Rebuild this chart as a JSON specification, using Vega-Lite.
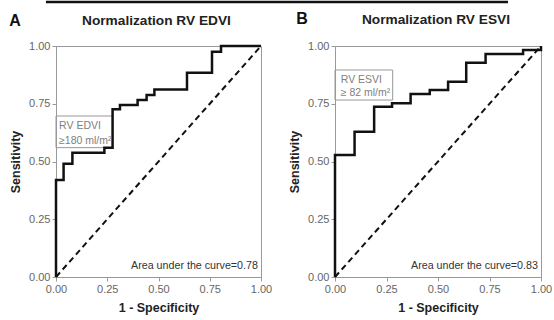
{
  "$schema": "https://vega.github.io/schema/vega-lite/v6.json",
  "padding": {"left": 8, "top": 0, "right": 2, "bottom": 2},
  "background": "white",
  "config": {
    "font": "Liberation Sans",
    "view": {"stroke": "#999999", "strokeWidth": 1},
    "axis": {
      "grid": false,
      "domainColor": "#999999",
      "tickColor": "#999999",
      "tickSize": 4,
      "labelColor": "#666666",
      "labelFontSize": 11,
      "labelFont": "Liberation Sans",
      "labelPadding": 2,
      "labelFlush": false,
      "titleFont": "Liberation Sans",
      "titleFontSize": 12.5,
      "titleFontWeight": "bold",
      "titleColor": "#222222"
    }
  },
  "datasets": {
    "roc_a": [
      {"i": 0, "x": 0, "y": 0},
      {"i": 1, "x": 0, "y": 0.42},
      {"i": 2, "x": 0.037, "y": 0.49},
      {"i": 3, "x": 0.08, "y": 0.538},
      {"i": 4, "x": 0.236, "y": 0.56},
      {"i": 5, "x": 0.276, "y": 0.726},
      {"i": 6, "x": 0.312, "y": 0.745},
      {"i": 7, "x": 0.398, "y": 0.766},
      {"i": 8, "x": 0.442, "y": 0.788},
      {"i": 9, "x": 0.48, "y": 0.812},
      {"i": 10, "x": 0.639, "y": 0.884},
      {"i": 11, "x": 0.761, "y": 0.975},
      {"i": 12, "x": 0.805, "y": 1.0},
      {"i": 13, "x": 1.0, "y": 1.0}
    ],
    "roc_b": [
      {"i": 0, "x": 0, "y": 0},
      {"i": 1, "x": 0, "y": 0.528},
      {"i": 2, "x": 0.095, "y": 0.629},
      {"i": 3, "x": 0.19, "y": 0.737},
      {"i": 4, "x": 0.277, "y": 0.752},
      {"i": 5, "x": 0.367, "y": 0.792},
      {"i": 6, "x": 0.46, "y": 0.81},
      {"i": 7, "x": 0.549, "y": 0.845},
      {"i": 8, "x": 0.637, "y": 0.928},
      {"i": 9, "x": 0.731, "y": 0.965},
      {"i": 10, "x": 0.913, "y": 0.983},
      {"i": 11, "x": 1.0, "y": 1.0}
    ],
    "diag": [{"x": 0, "y": 0}, {"x": 1, "y": 1}],
    "box_a": [{"x": 0, "x2": 0.276, "y": 0.56, "y2": 0.697}],
    "box_b": [{"x": 0, "x2": 0.28, "y": 0.766, "y2": 0.896}],
    "lab_a": [
      {"x": 0.015, "y": 0.655, "label": "RV EDVI"},
      {"x": 0.015, "y": 0.59, "label": "≥180 ml/m²"}
    ],
    "lab_b": [
      {"x": 0.028, "y": 0.853, "label": "RV ESVI"},
      {"x": 0.028, "y": 0.797, "label": "≥ 82 ml/m²"}
    ],
    "auc_a": [{"x": 0.985, "y": 0.047, "label": "Area under the curve=0.78"}],
    "auc_b": [{"x": 0.985, "y": 0.047, "label": "Area under the curve=0.83"}],
    "title_a": [{"x": 0.49, "y": 1.091, "label": "Normalization RV EDVI"}],
    "title_b": [{"x": 0.49, "y": 1.095, "label": "Normalization RV ESVI"}],
    "letter_a": [{"x": -0.2, "y": 1.087, "label": "A"}],
    "letter_b": [{"x": -0.16, "y": 1.095, "label": "B"}],
    "topline": [{"x": -0.049, "x2": 2.205, "y": 1.19}]
  },
  "bounds": "flush",
  "spacing": 74,
  "hconcat": [
    {
      "width": 205,
      "height": 231,
      "encoding": {
        "x": {"field": "x", "type": "quantitative", "scale": {"domain": [0, 1], "nice": false},
              "axis": {"values": [0, 0.25, 0.5, 0.75, 1], "format": ".2f", "title": "1 - Specificity", "titlePadding": 7}},
        "y": {"field": "y", "type": "quantitative", "scale": {"domain": [0, 1], "nice": false},
              "axis": {"values": [0, 0.25, 0.5, 0.75, 1], "format": ".2f", "title": "Sensitivity", "titlePadding": 6}}
      },
      "layer": [
        {"data": {"name": "box_a"}, "mark": {"type": "rect", "fill": "white", "fillOpacity": 0, "stroke": "#999999", "strokeWidth": 1},
         "encoding": {"x2": {"field": "x2"}, "y2": {"field": "y2"}}},
        {"data": {"name": "diag"}, "mark": {"type": "line", "color": "#111111", "strokeWidth": 2, "strokeDash": [6, 4]}, "encoding": {}},
        {"data": {"name": "roc_a"}, "mark": {"type": "line", "color": "#111111", "strokeWidth": 2.5, "interpolate": "step-after"},
         "encoding": {"order": {"field": "i", "type": "quantitative"}}},
        {"data": {"name": "lab_a"}, "mark": {"type": "text", "align": "left", "baseline": "middle", "fontSize": 10.5, "color": "#808080"},
         "encoding": {"text": {"field": "label"}}},
        {"data": {"name": "auc_a"}, "mark": {"type": "text", "align": "right", "baseline": "middle", "fontSize": 10.7, "color": "#333333"},
         "encoding": {"text": {"field": "label"}}},
        {"data": {"name": "title_a"}, "mark": {"type": "text", "align": "center", "baseline": "alphabetic", "fontSize": 13.7, "fontWeight": "bold", "color": "#222222"},
         "encoding": {"text": {"field": "label"}}},
        {"data": {"name": "letter_a"}, "mark": {"type": "text", "align": "center", "baseline": "alphabetic", "fontSize": 16, "fontWeight": "bold", "color": "#111111"},
         "encoding": {"text": {"field": "label"}}},
        {"data": {"name": "topline"}, "mark": {"type": "rule", "color": "#111111", "strokeWidth": 2.5},
         "encoding": {"x2": {"field": "x2"}}}
      ]
    },
    {
      "width": 206,
      "height": 231,
      "encoding": {
        "x": {"field": "x", "type": "quantitative", "scale": {"domain": [0, 1], "nice": false},
              "axis": {"values": [0, 0.25, 0.5, 0.75, 1], "format": ".2f", "title": "1 - Specificity", "titlePadding": 7}},
        "y": {"field": "y", "type": "quantitative", "scale": {"domain": [0, 1], "nice": false},
              "axis": {"values": [0, 0.25, 0.5, 0.75, 1], "format": ".2f", "title": "Sensitivity", "titlePadding": 6}}
      },
      "layer": [
        {"data": {"name": "box_b"}, "mark": {"type": "rect", "fill": "white", "fillOpacity": 0, "stroke": "#999999", "strokeWidth": 1},
         "encoding": {"x2": {"field": "x2"}, "y2": {"field": "y2"}}},
        {"data": {"name": "diag"}, "mark": {"type": "line", "color": "#111111", "strokeWidth": 2, "strokeDash": [6, 4]}, "encoding": {}},
        {"data": {"name": "roc_b"}, "mark": {"type": "line", "color": "#111111", "strokeWidth": 2.5, "interpolate": "step-after"},
         "encoding": {"order": {"field": "i", "type": "quantitative"}}},
        {"data": {"name": "lab_b"}, "mark": {"type": "text", "align": "left", "baseline": "middle", "fontSize": 10.5, "color": "#808080"},
         "encoding": {"text": {"field": "label"}}},
        {"data": {"name": "auc_b"}, "mark": {"type": "text", "align": "right", "baseline": "middle", "fontSize": 10.7, "color": "#333333"},
         "encoding": {"text": {"field": "label"}}},
        {"data": {"name": "title_b"}, "mark": {"type": "text", "align": "center", "baseline": "alphabetic", "fontSize": 13.7, "fontWeight": "bold", "color": "#222222"},
         "encoding": {"text": {"field": "label"}}},
        {"data": {"name": "letter_b"}, "mark": {"type": "text", "align": "center", "baseline": "alphabetic", "fontSize": 16, "fontWeight": "bold", "color": "#111111"},
         "encoding": {"text": {"field": "label"}}}
      ]
    }
  ]
}
